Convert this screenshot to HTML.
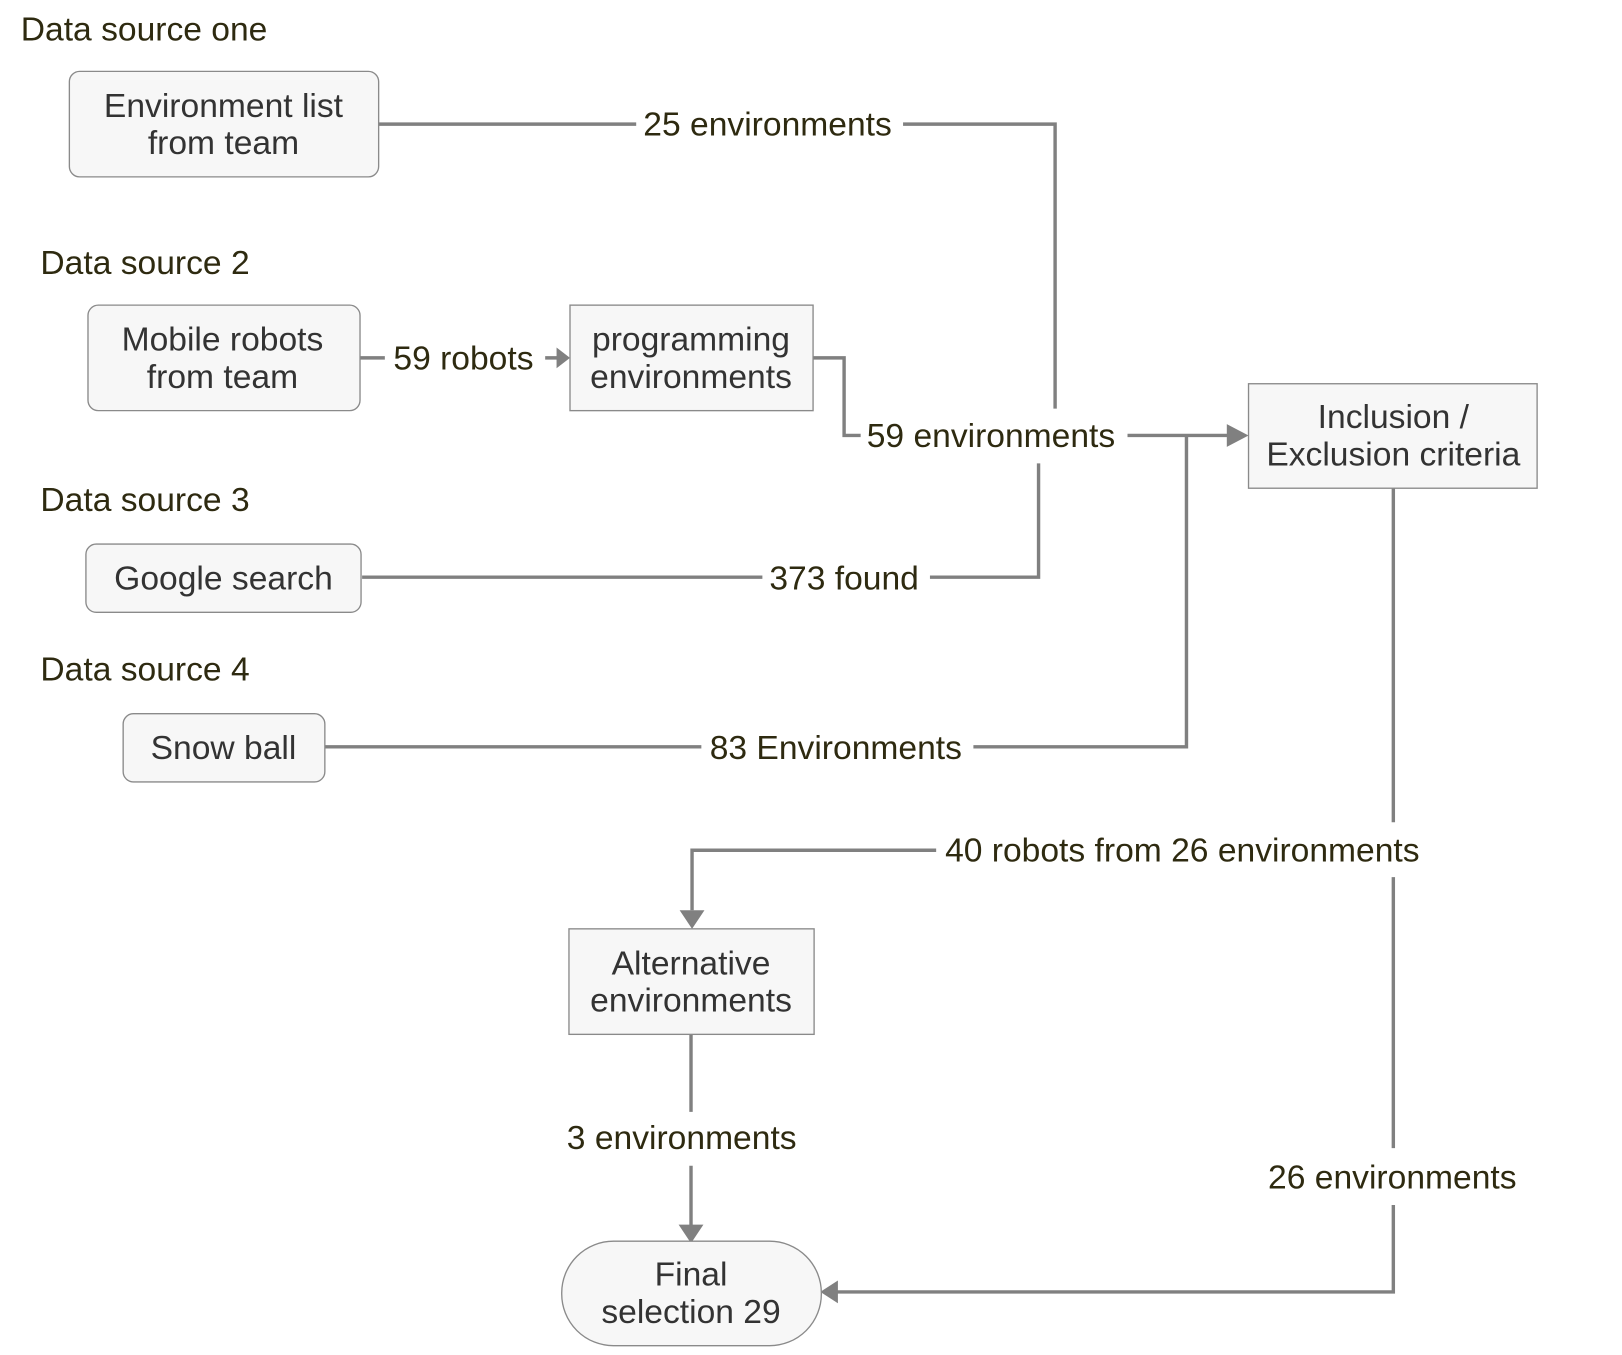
<!DOCTYPE html>
<html><head><meta charset="utf-8"><style>
html,body{margin:0;padding:0;background:#fff}
svg{display:block}
text{font-family:"Liberation Sans",sans-serif;font-size:32.5px}
.l{fill:#2e2a10}
.b{fill:#333;text-anchor:middle}
.c{fill:#2e2a10;text-anchor:middle}
</style></head><body>
<svg width="1622" height="1355" viewBox="0 0 1568 1310" xmlns="http://www.w3.org/2000/svg">
<g fill="none" stroke="#808080" stroke-width="3.3">
<path d="M366,120H615M873,120H1020V395"/>
<path d="M348,346H372M527,346H540"/>
<path d="M786,346H816V421H832M1090,421H1190"/>
<path d="M1004,448V558H899M350,558H737"/>
<path d="M314,722H678M941,722H1147V421"/>
<path d="M1347,472V795M1347,848V1110M1347,1165V1249H808"/>
<path d="M905,822H669V880"/>
<path d="M668,1000V1075M668,1127V1185"/>
</g>
<g fill="#808080">
<path d="M551,346 L538,336 L538,356Z"/>
<path d="M1207,421 L1186,410 L1186,432Z"/>
<path d="M793,1249 L810,1238 L810,1260Z"/>
<path d="M669,898 L657,880 L681,880Z"/>
<path d="M668,1202 L656,1184 L680,1184Z"/>
</g>
<g fill="#f7f7f7" stroke="#8a8a8a" stroke-width="1.3">
<rect x="67" y="69" width="299" height="102" rx="10"/>
<rect x="85" y="295" width="263" height="102" rx="10"/>
<rect x="551" y="295" width="235" height="102"/>
<rect x="83" y="526" width="266" height="66" rx="10"/>
<rect x="119" y="690" width="195" height="66" rx="10"/>
<rect x="1207" y="371" width="279" height="101"/>
<rect x="550" y="898" width="237" height="102"/>
<rect x="543" y="1200" width="251" height="101" rx="50"/>
</g>
<text class="l" x="20" y="39">Data source one</text>
<text class="l" x="39" y="265">Data source 2</text>
<text class="l" x="39" y="494">Data source 3</text>
<text class="l" x="39" y="658">Data source 4</text>
<text class="b" x="216" y="113">Environment list</text>
<text class="b" x="216" y="149">from team</text>
<text class="b" x="215" y="339">Mobile robots</text>
<text class="b" x="215" y="375">from team</text>
<text class="b" x="668" y="339">programming</text>
<text class="b" x="668" y="375">environments</text>
<text class="b" x="216" y="570">Google search</text>
<text class="b" x="216" y="734">Snow ball</text>
<text class="b" x="1347" y="414">Inclusion /</text>
<text class="b" x="1347" y="450">Exclusion criteria</text>
<text class="b" x="668" y="942">Alternative</text>
<text class="b" x="668" y="978">environments</text>
<text class="b" x="668" y="1243">Final</text>
<text class="b" x="668" y="1279">selection 29</text>
<text class="c" x="742" y="131">25 environments</text>
<text class="c" x="448" y="357">59 robots</text>
<text class="c" x="958" y="432">59 environments</text>
<text class="c" x="816" y="570">373 found</text>
<text class="c" x="808" y="734">83 Environments</text>
<text class="c" x="1143" y="833">40 robots from 26 environments</text>
<text class="c" x="1346" y="1149">26 environments</text>
<text class="c" x="659" y="1111">3 environments</text>
</svg>
</body></html>
